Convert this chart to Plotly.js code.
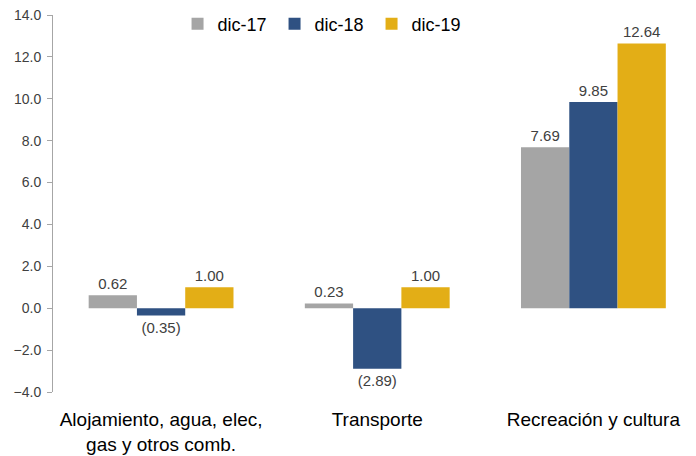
<!DOCTYPE html>
<html>
<head>
<meta charset="utf-8">
<script src="https://cdn.plot.ly/plotly-3.0.1.min.js"></script>
<style>html,body{margin:0;padding:0;background:#fff;}#chart{width:696px;height:456px;}</style>
</head>
<body>
<div id="chart"></div>
<script>
const categories = ["Alojamiento, agua, elec,<br>gas y otros comb.", "Transporte", "Recreación y cultura"];
const seriesNames = ["dic-17", "dic-18", "dic-19"];
const dic17 = [0.62, 0.23, 7.69];
const dic18 = [-0.35, -2.89, 9.85];
const dic19 = [1.00, 1.00, 12.64];
const yTickVals = [-4, -2, 0, 2, 4, 6, 8, 10, 12, 14];

const colors = ["#A5A5A5", "#2F5182", "#E3AE16"];
function fmt(v) { return v < 0 ? "(" + Math.abs(v).toFixed(2) + ")" : v.toFixed(2); }

const traces = [dic17, dic18, dic19].map((vals, i) => ({
  type: "bar",
  name: seriesNames[i],
  x: categories,
  y: vals,
  text: vals.map(fmt),
  textposition: "outside",
  constraintext: "none",
  cliponaxis: false,
  textfont: {family: "Liberation Sans, Arial, sans-serif", size: 15, color: "#404040"},
  marker: {color: colors[i], line: {width: 0}},
  hoverinfo: "none"
}));

const layout = {
  width: 696, height: 456,
  margin: {l: 53, r: 1, t: 15, b: 64},
  paper_bgcolor: "#fff", plot_bgcolor: "#fff",
  barmode: "group", bargap: 0.33, bargroupgap: 0,
  showlegend: true,
  legend: {
    orientation: "h", x: 0.194, xanchor: "left", y: 0.976, yanchor: "middle",
    font: {family: "Liberation Sans, Arial, sans-serif", size: 18, color: "#000"},
    entrywidth: 52, entrywidthmode: "pixels", itemwidth: 30,
    bgcolor: "rgba(0,0,0,0)", borderwidth: 0
  },
  xaxis: {
    type: "category", range: [-0.5, 2.47],
    showline: false, showgrid: false, zeroline: false, ticks: "",
    ticklabelstandoff: 14,
    tickfont: {family: "Liberation Sans, Arial, sans-serif", size: 19, color: "#000"},
    fixedrange: true
  },
  xaxis2: {
    overlaying: "x", anchor: "free", position: 4/18,
    type: "linear", range: [-0.5, 2.47],
    tickvals: [0.5, 1.5], showticklabels: false,
    ticks: "outside", ticklen: 5, tickcolor: "#A6A6A6", tickwidth: 1,
    showline: true, linecolor: "#A6A6A6", linewidth: 1,
    showgrid: false, zeroline: false, fixedrange: true
  },
  yaxis: {
    range: [-4, 14], tickvals: yTickVals, tickformat: ".1f",
    showline: true, linecolor: "#A6A6A6", linewidth: 1,
    ticks: "outside", ticklen: 5, tickcolor: "#A6A6A6",
    showgrid: false, zeroline: false,
    ticklabelstandoff: 3,
    tickfont: {family: "Liberation Sans, Arial, sans-serif", size: 14, color: "#404040"},
    fixedrange: true
  }
};

Plotly.newPlot("chart", traces, layout, {displayModeBar: false, staticPlot: true});
</script>
</body>
</html>
